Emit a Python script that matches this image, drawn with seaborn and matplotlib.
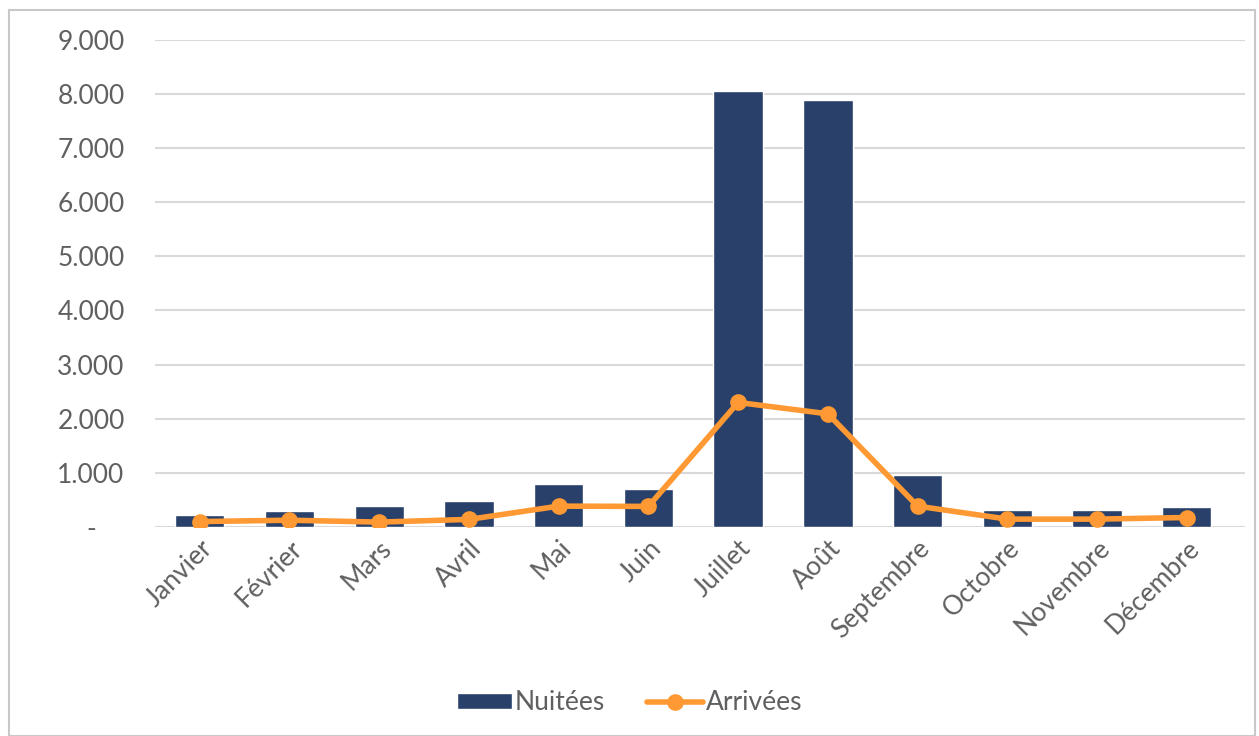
import pandas as pd
import numpy as np
import matplotlib.pyplot as plt
import seaborn as sns
from matplotlib.patches import Rectangle
from matplotlib.ticker import FuncFormatter

# données
mois = ['Janvier', 'Février', 'Mars', 'Avril', 'Mai', 'Juin', 'Juillet',
        'Août', 'Septembre', 'Octobre', 'Novembre', 'Décembre']
nuitees = [225, 290, 395, 485, 795, 705, 8045, 7880, 960, 320, 320, 370]
arrivees = [100, 125, 90, 140, 385, 380, 2300, 2090, 385, 145, 145, 175]

df = pd.DataFrame({'mois': mois, 'Nuitées': nuitees, 'Arrivées': arrivees})

sns.set_style('white')
plt.rcParams['font.family'] = ['Lato', 'DejaVu Sans']

bleu = '#29406A'
orange = '#FF9933'
gris = '#606060'

fig = plt.figure(figsize=(12.59, 7.36), dpi=100)
ax = fig.add_axes([0.123, 0.284, 0.866, 0.662])

sns.barplot(data=df, x='mois', y='Nuitées', color=bleu, width=0.55,
            saturation=1, ax=ax, label='Nuitées')
sns.lineplot(data=df, x='mois', y='Arrivées', color=orange, linewidth=4,
             marker='o', markersize=12, markeredgewidth=0, sort=False,
             ax=ax, label='Arrivées')

ax.set_ylim(0, 9000)
ax.set_xlim(-0.5, 11.65)
ax.set_yticks(np.arange(0, 9001, 1000))
ax.yaxis.set_major_formatter(FuncFormatter(
    lambda v, p: '-' if v == 0 else f'{int(v):,}'.replace(',', '.')))
ax.grid(axis='y', color='#D9D9D9', linewidth=1.5)
ax.set_axisbelow(True)
for s in ax.spines.values():
    s.set_visible(False)
ax.set_xlabel('')
ax.set_ylabel('')
ax.tick_params(axis='y', labelsize=19, labelcolor=gris, length=0, pad=46)
ax.tick_params(axis='x', labelsize=19, labelcolor=gris, length=0, pad=6)
for lab in ax.get_yticklabels():
    lab.set_horizontalalignment('center')
plt.setp(ax.get_xticklabels(), rotation=45, ha='right', rotation_mode='anchor')

handles, labels = ax.get_legend_handles_labels()
ordre = [labels.index('Nuitées'), labels.index('Arrivées')]
leg = ax.legend([handles[i] for i in ordre], [labels[i] for i in ordre],
                loc='center', bbox_to_anchor=(0.5, 0.045),
                bbox_transform=fig.transFigure, ncol=2, frameon=False,
                fontsize=19, handlelength=2.1, handleheight=0.6,
                handletextpad=0.1, columnspacing=1.6)
for t in leg.get_texts():
    t.set_color(gris)

# cadre gris autour du graphique
fig.patches.append(Rectangle((0.007, 0.0), 0.99, 0.986, transform=fig.transFigure,
                             fill=False, edgecolor='#C8C8C8', linewidth=1.5))

fig.savefig('out.png', dpi=100)
